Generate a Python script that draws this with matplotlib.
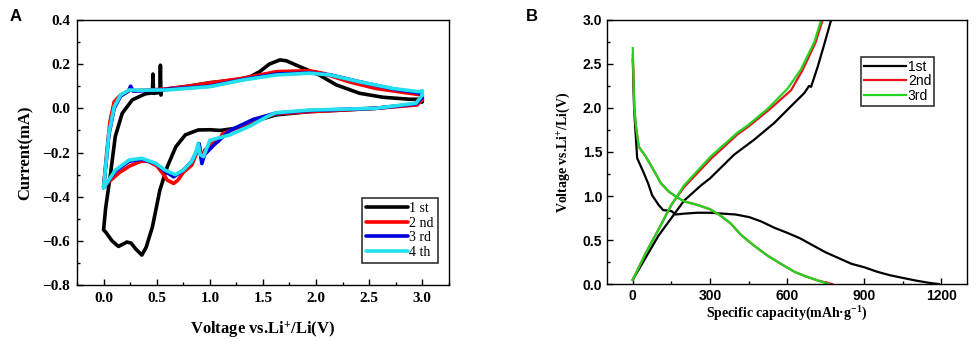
import matplotlib
matplotlib.use("Agg")
import matplotlib.pyplot as plt
from matplotlib.ticker import MultipleLocator

plt.rcParams['mathtext.default'] = 'regular'

# ---- panel A: cyclic voltammetry (voltage V, current mA) ----
V1 = [3.0, 2.88, 2.56, 2.25, 1.94, 1.62, 1.41, 1.25, 1.1, 1.0, 0.89, 0.77, 0.68, 0.6,
      0.53, 0.46, 0.40, 0.36, 0.30, 0.26, 0.22, 0.18, 0.14, 0.08, 0.02, 0.0,
      0.02, 0.066, 0.11, 0.175, 0.27, 0.39, 0.46, 0.465, 0.47, 0.475, 0.53, 0.535,
      0.54, 0.545, 0.6, 0.8, 1.0, 1.25, 1.38, 1.47, 1.56, 1.66, 1.72, 1.81, 2.03,
      2.19, 2.41, 2.63, 2.88, 3.0, 3.0]
I1 = [0.03, 0.015, 0.0, -0.008, -0.015, -0.03, -0.06, -0.09, -0.1, -0.097, -0.098,
      -0.12, -0.174, -0.264, -0.37, -0.536, -0.63, -0.664, -0.635, -0.61, -0.605,
      -0.615, -0.625, -0.6, -0.56, -0.55,
      -0.45, -0.294, -0.128, -0.023, 0.038, 0.065, 0.07, 0.155, 0.07, 0.068, 0.072,
      0.195, 0.06, 0.08, 0.088, 0.1, 0.116, 0.128, 0.143, 0.166, 0.2, 0.219, 0.215,
      0.196, 0.151, 0.106, 0.068, 0.05, 0.041, 0.041, 0.03]

V2 = [3.0, 2.95, 2.56, 2.25, 1.94, 1.62, 1.41, 1.25, 1.12, 1.08, 1.05, 0.95, 0.92,
      0.9, 0.87, 0.83, 0.75, 0.7, 0.66, 0.6, 0.55, 0.5, 0.42, 0.35, 0.25, 0.15, 0.08,
      0.0, 0.03, 0.06, 0.1, 0.16, 0.23, 0.25, 0.27, 0.4, 0.6, 0.8, 1.0, 1.31, 1.63,
      1.94, 2.06, 2.31, 2.56, 2.88, 3.0, 3.0]
I2 = [0.04, 0.015, 0.0, -0.008, -0.015, -0.025, -0.055, -0.09, -0.115, -0.15, -0.15,
      -0.19, -0.23, -0.17, -0.21, -0.257, -0.29, -0.325, -0.34, -0.325, -0.29, -0.26,
      -0.24, -0.24, -0.26, -0.29, -0.32, -0.355, -0.2, -0.06, 0.03, 0.06, 0.076,
      0.095, 0.08, 0.082, 0.088, 0.1, 0.115, 0.136, 0.166, 0.17, 0.159, 0.12, 0.09,
      0.068, 0.06, 0.04]

V3 = [3.0, 2.94, 2.56, 1.94, 1.62, 1.41, 1.19, 1.03, 0.95, 0.925, 0.9, 0.88, 0.83,
      0.75, 0.66, 0.58, 0.49, 0.36, 0.24, 0.11, 0.0, 0.05, 0.1, 0.16, 0.24, 0.255,
      0.28, 0.5, 1.0, 1.31, 1.63, 1.94, 2.13, 2.41, 2.72, 2.97, 3.0]
I3 = [0.05, 0.02, 0.0, -0.01, -0.022, -0.05, -0.1, -0.17, -0.21, -0.25, -0.16,
      -0.19, -0.24, -0.28, -0.31, -0.285, -0.25, -0.23, -0.24, -0.285, -0.36, -0.12,
      0.0, 0.055, 0.08, 0.1, 0.078, 0.082, 0.1, 0.13, 0.155, 0.16, 0.152, 0.12,
      0.088, 0.07, 0.05]

V4 = [3.0, 2.94, 2.56, 1.94, 1.62, 1.53, 1.38, 1.19, 1.0, 0.94, 0.91, 0.89, 0.87,
      0.83, 0.75, 0.675, 0.58, 0.49, 0.36, 0.24, 0.11, 0.0, 0.05, 0.1, 0.16, 0.24,
      0.35, 0.6, 1.0, 1.31, 1.63, 1.94, 2.13, 2.41, 2.72, 2.97, 3.0, 3.0]
I4 = [0.06, 0.023, 0.0, -0.008, -0.02, -0.04, -0.08, -0.12, -0.145, -0.219, -0.21,
      -0.158, -0.2, -0.24, -0.28, -0.30, -0.28, -0.249, -0.226, -0.234, -0.28, -0.36,
      -0.113, 0.007, 0.06, 0.083, 0.082, 0.083, 0.098, 0.128, 0.151, 0.159, 0.151,
      0.12, 0.09, 0.075, 0.08, 0.06]

CV_LABELS = ['1 st', '2 nd', '3 rd', '4 th']
CV_COLORS = ['#000000', '#ff0000', '#0000dd', '#22e0f0']

# ---- panel B: charge/discharge (capacity mAh/g, voltage V) ----
D1_CAP = [0, 3, 5, 10, 17, 43, 60, 75, 100, 118, 150, 166, 200, 250, 300, 400, 453,
          500, 550, 602, 650, 706, 750, 804, 850, 901, 950, 1000, 1050, 1100, 1150, 1190]
D1_V = [2.55, 2.2, 2.0, 1.75, 1.43, 1.26, 1.14, 1.01, 0.9, 0.84, 0.83, 0.79, 0.8,
        0.81, 0.81, 0.79, 0.76, 0.71, 0.64, 0.58, 0.52, 0.43, 0.36, 0.29, 0.23, 0.19,
        0.14, 0.1, 0.07, 0.04, 0.015, 0.0]
C1_CAP = [0, 50, 100, 135, 200, 265, 300, 394, 472, 550, 615, 667, 685, 693, 719, 745, 771]
C1_V = [0.05, 0.3, 0.55, 0.69, 0.95, 1.12, 1.2, 1.47, 1.64, 1.83, 2.02, 2.17, 2.25,
        2.24, 2.47, 2.73, 3.0]

D2_CAP = [0, 3, 6, 12, 23, 50, 80, 108, 140, 170, 199, 250, 300, 335, 380, 420, 470,
          520, 570, 628, 670, 720, 775]
D2_V = [2.6, 2.3, 2.0, 1.8, 1.56, 1.45, 1.3, 1.15, 1.05, 0.99, 0.94, 0.9, 0.85, 0.79,
        0.69, 0.56, 0.44, 0.33, 0.24, 0.14, 0.09, 0.04, 0.0]
C2_CAP = [0, 50, 100, 150, 199, 303, 407, 450, 530, 615, 660, 710, 738]
C2_V = [0.05, 0.35, 0.62, 0.9, 1.1, 1.42, 1.7, 1.79, 1.98, 2.2, 2.43, 2.74, 3.0]

D3_CAP = [0, 3, 6, 12, 23, 50, 80, 108, 140, 170, 199, 250, 300, 335, 380, 420, 470,
          520, 570, 628, 670, 720, 762]
D3_V = [2.68, 2.3, 2.0, 1.8, 1.56, 1.45, 1.3, 1.15, 1.05, 0.99, 0.94, 0.9, 0.85, 0.79,
        0.69, 0.56, 0.44, 0.33, 0.24, 0.14, 0.09, 0.04, 0.0]
C3_CAP = [0, 50, 100, 150, 199, 303, 407, 446, 524, 602, 654, 706, 732]
C3_V = [0.05, 0.35, 0.62, 0.9, 1.12, 1.45, 1.72, 1.8, 1.99, 2.22, 2.44, 2.75, 3.0]

GC_LABELS = ['1st', '2nd', '3rd']
GC_COLORS = ['#000000', '#e8141e', '#22d422']

SERIF = 'Liberation Serif'
SANS = 'Liberation Sans'

fig = plt.figure(figsize=(9.76, 3.49), dpi=100)
axA = fig.add_axes([0.0789, 0.183, 0.381, 0.760])
axB = fig.add_axes([0.622, 0.186, 0.369, 0.757])

# ---- panel A ----
for v, i, lab, c in zip([V1, V2, V3, V4], [I1, I2, I3, I4], CV_LABELS, CV_COLORS):
    axA.plot(v, i, color=c, lw=2.6, label=lab, solid_capstyle='round')
axA.set_xlim(-0.25, 3.25)
axA.set_ylim(-0.8, 0.4)
axA.xaxis.set_major_locator(MultipleLocator(0.5))
axA.xaxis.set_minor_locator(MultipleLocator(0.25))
axA.yaxis.set_major_locator(MultipleLocator(0.2))
axA.yaxis.set_minor_locator(MultipleLocator(0.1))
axA.tick_params(which='both', direction='in', width=1.0)
axA.tick_params(which='major', length=4, pad=5)
axA.tick_params(which='minor', length=2.5)
for lbl in axA.get_xticklabels() + axA.get_yticklabels():
    lbl.set_fontfamily(SERIF)
    lbl.set_fontweight('bold')
    lbl.set_fontsize(11)
axA.set_xlabel('Voltage vs.Li$^{+}$/Li(V)', fontfamily=SERIF, fontweight='bold',
               fontsize=12, labelpad=10)
axA.set_ylabel('Current(mA)', fontfamily=SERIF, fontweight='bold', fontsize=12,
               labelpad=6)
for s in axA.spines.values():
    s.set_linewidth(1.0)
legA = axA.legend(loc='lower right', bbox_to_anchor=(0.97, 0.083),
                  prop={'family': SERIF, 'size': 10}, frameon=True, fancybox=False,
                  edgecolor='black', handlelength=3.0, handletextpad=0.1,
                  labelspacing=0.12, borderpad=0.3, borderaxespad=0.0)
legA.get_frame().set_linewidth(1.2)

# ---- panel B ----
for cap_d, v_d, cap_c, v_c, lab, c in zip([D1_CAP, D2_CAP, D3_CAP], [D1_V, D2_V, D3_V],
                                          [C1_CAP, C2_CAP, C3_CAP], [C1_V, C2_V, C3_V],
                                          GC_LABELS, GC_COLORS):
    axB.plot(cap_d, v_d, color=c, lw=1.6, label=lab)
    axB.plot(cap_c, v_c, color=c, lw=1.6)
axB.set_xlim(-100, 1300)
axB.set_ylim(0, 3.0)
axB.xaxis.set_major_locator(MultipleLocator(300))
axB.xaxis.set_minor_locator(MultipleLocator(150))
axB.yaxis.set_major_locator(MultipleLocator(0.5))
axB.yaxis.set_minor_locator(MultipleLocator(0.25))
axB.tick_params(which='both', direction='in', width=1.0)
axB.tick_params(which='major', length=4)
axB.tick_params(which='minor', length=2.5)
for lbl in axB.get_xticklabels() + axB.get_yticklabels():
    lbl.set_fontfamily(SANS)
    lbl.set_fontweight('bold')
    lbl.set_fontsize(10)
axB.set_xlabel('Specific capacity(mAh\u00b7g$^{-1}$)', fontfamily=SERIF,
               fontweight='bold', fontsize=10, labelpad=1)
axB.set_ylabel('Voltage vs.Li$^{+}$/Li(V)', fontfamily=SERIF, fontweight='bold',
               fontsize=10, labelpad=8)
for s in axB.spines.values():
    s.set_linewidth(1.0)
legB = axB.legend(loc='upper left', bbox_to_anchor=(0.706, 0.86),
                  prop={'family': SANS, 'size': 10}, frameon=True, fancybox=False,
                  edgecolor='black', handlelength=3.0, handletextpad=0.15,
                  labelspacing=0.05, borderpad=0.2, borderaxespad=0.0)
legB.get_frame().set_linewidth(1.2)

fig.text(0.01, 0.94, 'A', fontfamily=SANS, fontweight='bold', fontsize=12,
         va='baseline')
fig.text(0.539, 0.94, 'B', fontfamily=SANS, fontweight='bold', fontsize=12,
         va='baseline')

fig.savefig('out.png', dpi=100)
